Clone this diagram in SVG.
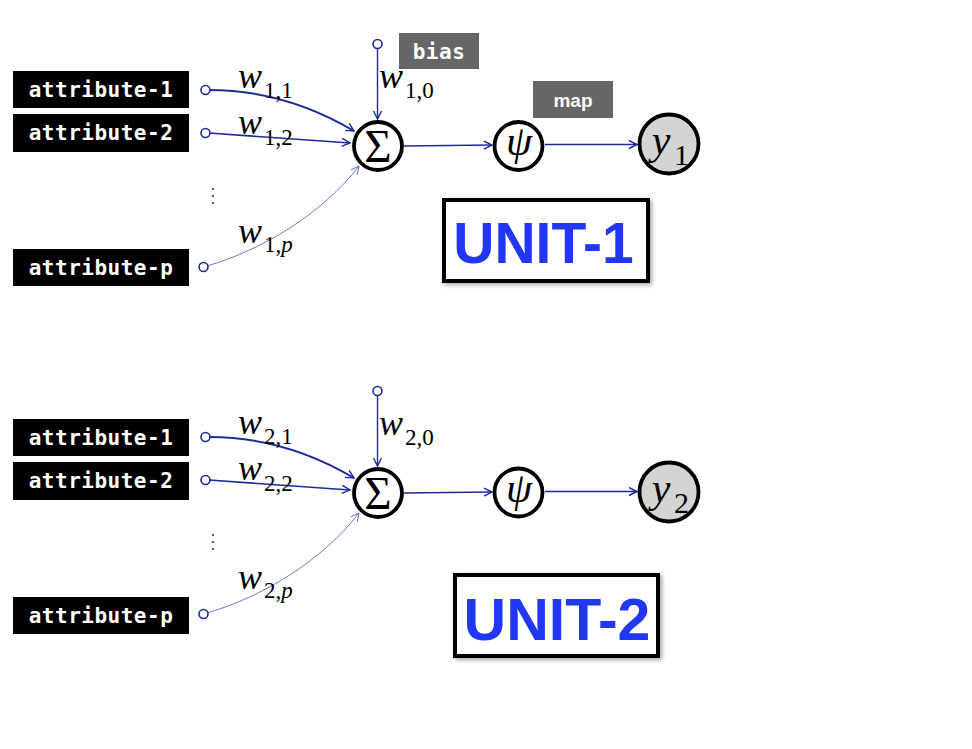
<svg xmlns="http://www.w3.org/2000/svg" width="972" height="749" viewBox="0 0 972 749">
<defs>
<style>
.attr{fill:#000}
.attrt{fill:#fff;font-family:"DejaVu Sans Mono","Liberation Mono",monospace;font-weight:bold;font-size:21px;letter-spacing:0.5px}
.tag{fill:#666}
.inp{fill:#fff;stroke:#1c2a9c;stroke-width:1.6}
.con{fill:none;stroke:#1c2a9c}
.node{fill:#fff;stroke:#000;stroke-width:3.8}
.out{fill:#d4d4d4;stroke:#000;stroke-width:3.8}
.wi{font-family:"Liberation Serif",serif;font-style:italic;font-size:36px;fill:#000}
.ws{font-family:"Liberation Serif",serif;font-size:23px;fill:#000}
.sig{font-family:"Liberation Serif",serif;font-size:47px;fill:#000;text-anchor:middle}
.psi{font-family:"Liberation Serif",serif;font-style:italic;font-size:42px;fill:#000;text-anchor:middle}
.unitbox{fill:#fff;stroke:#000;stroke-width:4}
.unitt{font-family:"Liberation Sans",Arial,sans-serif;font-weight:bold;fill:#2137f5;text-anchor:middle}
</style>
<marker id="arr" markerWidth="12" markerHeight="12" refX="9" refY="5" orient="auto" markerUnits="userSpaceOnUse">
<path d="M1,1 L9,5 L1,9" fill="none" stroke="#1c2a9c" stroke-width="1.4"/>
</marker>
<marker id="arrt" markerWidth="12" markerHeight="12" refX="9" refY="5" orient="auto" markerUnits="userSpaceOnUse">
<path d="M1,1 L9,5 L1,9" fill="none" stroke="#4a55c4" stroke-width="0.8"/>
</marker>
<filter id="sh" x="-10%" y="-10%" width="130%" height="140%">
<feDropShadow dx="2" dy="2" stdDeviation="2" flood-color="#000" flood-opacity="0.35"/>
</filter>
</defs>
<rect width="972" height="749" fill="#fff"/>

<!-- connectors -->
<g id="connectors">
<path class="con" stroke-width="2" d="M209,90 C265,90 312,106 354,131" marker-end="url(#arr)"/>
<path class="con" stroke-width="1.6" d="M209,133 L350,143" marker-end="url(#arr)"/>
<path fill="none" stroke="#4a55c4" stroke-width="0.8" d="M207,266 C262,250 322,214 359,166" marker-end="url(#arrt)"/>
<path class="con" stroke-width="1.4" d="M377.5,48 L377.5,119" marker-end="url(#arr)"/>
<path class="con" stroke-width="1.4" d="M404,146 L492,145" marker-end="url(#arr)"/>
<path class="con" stroke-width="1.4" d="M545,144.5 L637,144.5" marker-end="url(#arr)"/>

<path class="con" stroke-width="2" d="M209,437 C265,437 312,453 354,478" marker-end="url(#arr)"/>
<path class="con" stroke-width="1.6" d="M209,480 L350,490" marker-end="url(#arr)"/>
<path fill="none" stroke="#4a55c4" stroke-width="0.8" d="M207,613 C262,597 322,561 359,513" marker-end="url(#arrt)"/>
<path class="con" stroke-width="1.4" d="M377.5,395 L377.5,466" marker-end="url(#arr)"/>
<path class="con" stroke-width="1.4" d="M404,493 L492,492" marker-end="url(#arr)"/>
<path class="con" stroke-width="1.4" d="M545,491.5 L637,491.5" marker-end="url(#arr)"/>
</g>

<!-- unit 1 -->
<g id="u1-attr1"><rect class="attr" x="13" y="71" width="176" height="37"/><text class="attrt" x="101" y="97" text-anchor="middle">attribute-1</text></g>
<g id="u1-attr2"><rect class="attr" x="13" y="114" width="176" height="38"/><text class="attrt" x="101" y="140" text-anchor="middle">attribute-2</text></g>
<g id="u1-attrp"><rect class="attr" x="13" y="249" width="176" height="37"/><text class="attrt" x="101" y="275" text-anchor="middle">attribute-p</text></g>
<g id="u1-in1"><circle class="inp" cx="205.5" cy="90" r="4.5"/></g>
<g id="u1-in2"><circle class="inp" cx="205.5" cy="133" r="4.5"/></g>
<g id="u1-inp"><circle class="inp" cx="203.5" cy="267" r="4.5"/></g>
<g id="u1-inb"><circle class="inp" cx="377.5" cy="44" r="4.5"/></g>
<g id="u1-dots" fill="#333"><circle cx="213" cy="189" r="1.1"/><circle cx="213" cy="196" r="1.1"/><circle cx="213" cy="203" r="1.1"/></g>
<g id="u1-w11"><text class="wi" x="238" y="88">w</text><text class="ws" x="264" y="98">1,1</text></g>
<g id="u1-w12"><text class="wi" x="238" y="134">w</text><text class="ws" x="264" y="145">1,2</text></g>
<g id="u1-w1p"><text class="wi" x="238" y="243">w</text><text class="ws" x="264" y="252">1,<tspan font-style="italic">p</tspan></text></g>
<g id="u1-w10"><text class="wi" x="379" y="88">w</text><text class="ws" x="405" y="98">1,0</text></g>
<g id="u1-bias"><rect class="tag" x="399" y="33" width="80" height="36"/><text class="attrt" x="439" y="59" text-anchor="middle">bias</text></g>
<g id="u1-map"><rect class="tag" x="533" y="81" width="80" height="37"/><text x="573" y="107" text-anchor="middle" font-family="Liberation Sans,Arial,sans-serif" font-weight="bold" font-size="19" fill="#fff">map</text></g>
<g id="u1-sum"><circle class="node" cx="378" cy="146" r="24"/><text class="sig" x="378" y="162">Σ</text></g>
<g id="u1-psi"><circle class="node" cx="518.5" cy="146" r="24"/><text class="psi" x="519" y="155">ψ</text></g>
<g id="u1-y"><circle class="out" cx="669" cy="144" r="29.5"/><text x="661" y="154" text-anchor="middle" font-family="Liberation Serif,serif" font-style="italic" font-size="42">y</text><text x="674" y="165" font-family="Liberation Serif,serif" font-size="30">1</text></g>
<g id="u1-label"><rect class="unitbox" x="444" y="200" width="204" height="81" filter="url(#sh)"/><text class="unitt" x="543.5" y="263" font-size="57">UNIT-1</text></g>

<!-- unit 2 -->
<g id="u2-attr1"><rect class="attr" x="13" y="419" width="176" height="37"/><text class="attrt" x="101" y="445" text-anchor="middle">attribute-1</text></g>
<g id="u2-attr2"><rect class="attr" x="13" y="462" width="176" height="38"/><text class="attrt" x="101" y="488" text-anchor="middle">attribute-2</text></g>
<g id="u2-attrp"><rect class="attr" x="13" y="597" width="176" height="37"/><text class="attrt" x="101" y="623" text-anchor="middle">attribute-p</text></g>
<g id="u2-in1"><circle class="inp" cx="205.5" cy="437" r="4.5"/></g>
<g id="u2-in2"><circle class="inp" cx="205.5" cy="480" r="4.5"/></g>
<g id="u2-inp"><circle class="inp" cx="203.5" cy="614" r="4.5"/></g>
<g id="u2-inb"><circle class="inp" cx="377.5" cy="391" r="4.5"/></g>
<g id="u2-dots" fill="#333"><circle cx="213" cy="535" r="1.1"/><circle cx="213" cy="542" r="1.1"/><circle cx="213" cy="549" r="1.1"/></g>
<g id="u2-w21"><text class="wi" x="238" y="434">w</text><text class="ws" x="264" y="444">2,1</text></g>
<g id="u2-w22"><text class="wi" x="238" y="480">w</text><text class="ws" x="264" y="491">2,2</text></g>
<g id="u2-w2p"><text class="wi" x="238" y="589">w</text><text class="ws" x="264" y="598">2,<tspan font-style="italic">p</tspan></text></g>
<g id="u2-w20"><text class="wi" x="379" y="435">w</text><text class="ws" x="405" y="445">2,0</text></g>
<g id="u2-sum"><circle class="node" cx="378" cy="493" r="24"/><text class="sig" x="378" y="509">Σ</text></g>
<g id="u2-psi"><circle class="node" cx="518.5" cy="492.5" r="24"/><text class="psi" x="519" y="502">ψ</text></g>
<g id="u2-y"><circle class="out" cx="669" cy="492" r="29.5"/><text x="661" y="502" text-anchor="middle" font-family="Liberation Serif,serif" font-style="italic" font-size="42">y</text><text x="674" y="513" font-family="Liberation Serif,serif" font-size="30">2</text></g>
<g id="u2-label"><rect class="unitbox" x="455" y="575" width="203" height="81" filter="url(#sh)"/><text class="unitt" x="557" y="640" font-size="59">UNIT-2</text></g>
</svg>
